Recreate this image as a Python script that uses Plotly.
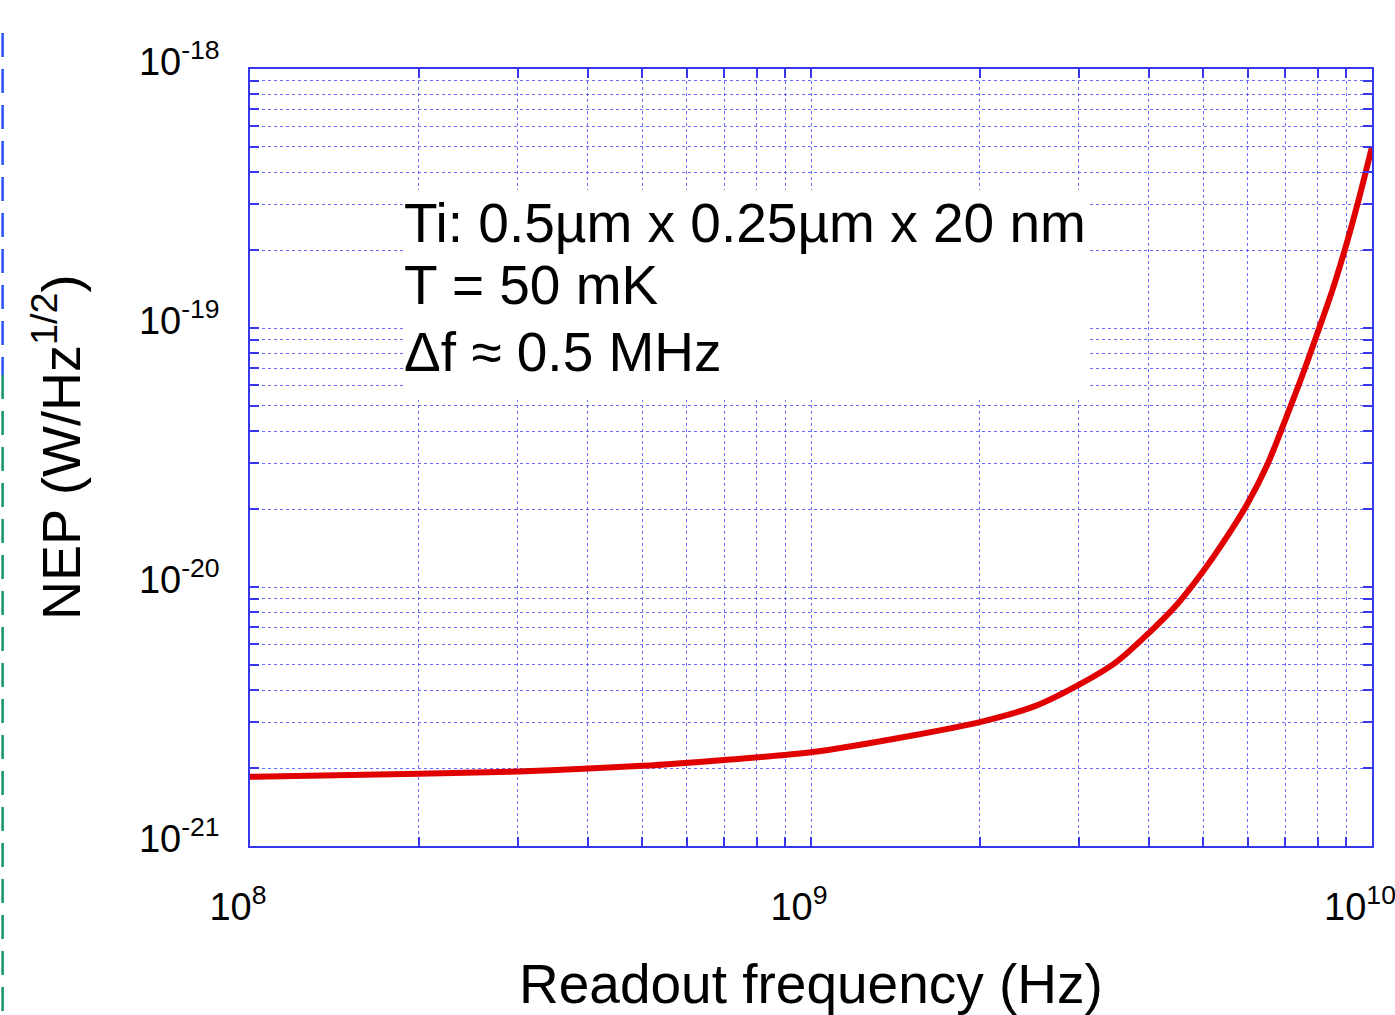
import plotly.graph_objects as go

# Data
freq_hz = [1e8, 2e8, 3e8, 5e8, 7e8, 1e9, 1.5e9, 2e9, 2.5e9, 3e9, 3.5e9, 4e9, 4.5e9,
           5e9, 5.5e9, 6e9, 6.5e9, 7e9, 7.5e9, 8e9, 8.5e9, 9e9, 9.5e9, 1e10]
nep = [1.85e-21, 1.90e-21, 1.94e-21, 2.04e-21, 2.15e-21, 2.30e-21, 2.66e-21, 3.01e-21,
       3.46e-21, 4.19e-21, 5.13e-21, 6.64e-21, 8.6e-21, 1.15e-20, 1.55e-20, 2.1e-20,
       2.95e-20, 4.4e-20, 6.5e-20, 9.6e-20, 1.40e-19, 2.10e-19, 3.22e-19, 5.0e-19]

x_decades = [8, 9, 10]
y_decades = [-21, -20, -19, -18]
annotation_lines = ["Ti: 0.5µm x 0.25µm x 20 nm", "T = 50 mK", "Δf ≈ 0.5 MHz"]
x_title = "Readout frequency (Hz)"
y_title = "NEP (W/Hz<sup>1/2</sup>)"

FONT = "Liberation Sans, Arial, sans-serif"
AXIS_BLUE = "rgb(55,55,235)"
GRID_BLUE = "rgba(80,80,255,0.85)"


def log_ticks(decades):
    vals, texts = [], []
    for i, d in enumerate(decades):
        for m in range(1, 10):
            if i == len(decades) - 1 and m > 1:
                break
            vals.append(m * 10.0 ** d)
            texts.append(f"10<sup>{d}</sup>" if m == 1 else "")
    return vals, texts


xv, xt = log_ticks(x_decades)
yv, yt = log_ticks(y_decades)

fig = go.Figure()
fig.add_trace(go.Scatter(
    x=freq_hz, y=nep, mode="lines",
    line=dict(color="#e00000", width=6, shape="spline", smoothing=0.8),
    showlegend=False,
))

axis_common = dict(
    type="log", showline=True, linecolor=AXIS_BLUE, linewidth=1.5, mirror="ticks",
    ticks="inside", ticklen=9, tickcolor=AXIS_BLUE, tickwidth=1.5,
    showgrid=True, gridcolor=GRID_BLUE, gridwidth=1, griddash="dot",
    zeroline=False, automargin=False, tickfont=dict(family=FONT, size=38, color="black"),
)

fig.update_xaxes(range=[x_decades[0] - 1e-6, x_decades[-1] + 1e-6], tickvals=xv, ticktext=xt,
                 ticklabelstandoff=27, ticklabelshift=-12, ticklabeloverflow="allow",
                 **axis_common)
fig.update_yaxes(range=[y_decades[0] - 1e-6, y_decades[-1] + 1e-6], tickvals=yv, ticktext=yt,
                 ticklabelstandoff=21, ticklabelshift=-7, **axis_common)

fig.add_annotation(
    xref="paper", yref="paper", x=0.5, y=-0.178, xanchor="center", yanchor="middle",
    text=x_title, showarrow=False, font=dict(family=FONT, size=55, color="black"),
)
fig.add_annotation(
    xref="paper", yref="paper", x=-0.172, y=0.5135, xanchor="center", yanchor="middle",
    text=y_title, textangle=-90, showarrow=False,
    font=dict(family=FONT, size=54, color="black"),
)

# white box behind the text block
fig.add_shape(type="rect", xref="paper", yref="paper", x0=0.1364, x1=0.7487,
              y0=0.574, y1=0.8443, fillcolor="white", line=dict(width=0), layer="above")

line_y = [0.8015, 0.7217, 0.6355]
for txt, yy in zip(annotation_lines, line_y):
    fig.add_annotation(
        xref="paper", yref="paper", x=0.1355, y=yy, xanchor="left", yanchor="middle",
        text=txt, align="left", showarrow=False,
        font=dict(family=FONT, size=55, color="black"),
    )

# dashed lines at the far left edge of the figure
fig.add_shape(type="line", xref="paper", yref="paper", x0=-0.2205, x1=-0.2205,
              y0=1.0463, y1=0.6062, line=dict(color="rgb(40,80,255)", width=2.5, dash="24px,12px"))
fig.add_shape(type="line", xref="paper", yref="paper", x0=-0.2205, x1=-0.2205,
              y0=0.6062, y1=-0.22, line=dict(color="rgb(20,150,100)", width=2.5, dash="24px,12px"))

fig.update_layout(
    width=1395, height=1015,
    margin=dict(l=250, r=23, t=69, b=169, autoexpand=False),
    paper_bgcolor="white", plot_bgcolor="white",
)

fig.write_html("out.html")
